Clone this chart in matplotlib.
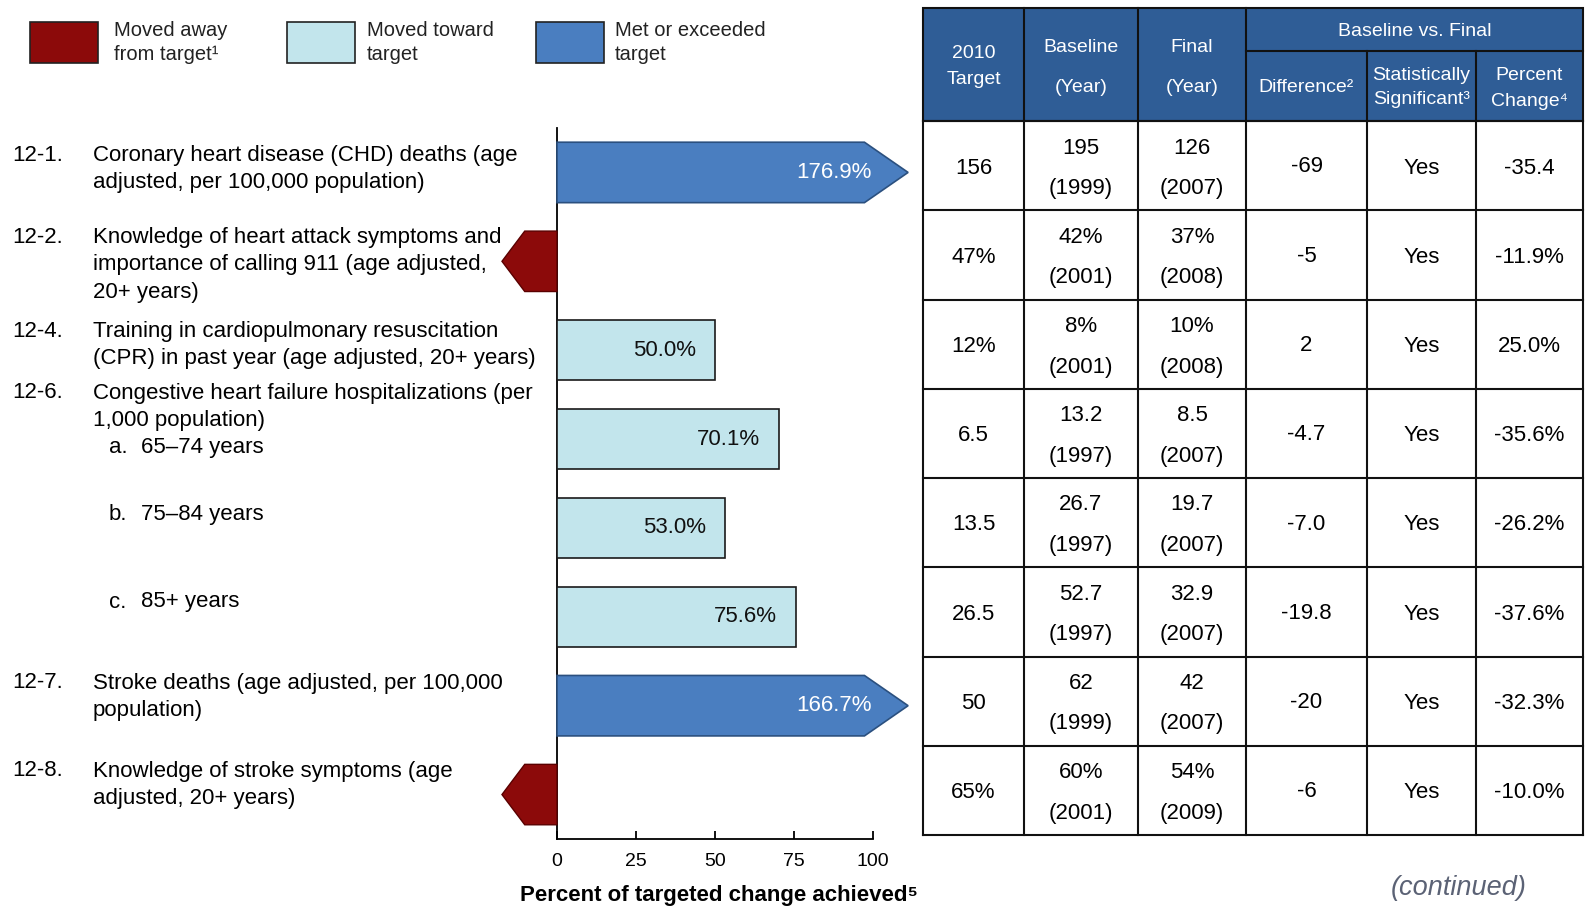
import matplotlib
matplotlib.use('Agg')
import matplotlib.pyplot as plt
from matplotlib.patches import Polygon, Rectangle

plt.rcParams['font.family'] = ['Liberation Sans', 'DejaVu Sans']

# data
objective_ids = ['12-1.', '12-2.', '12-4.', '12-6.', '12-7.', '12-8.']
objective_text = [
    'Coronary heart disease (CHD) deaths (age\nadjusted, per 100,000 population)',
    'Knowledge of heart attack symptoms and\nimportance of calling 911 (age adjusted,\n20+ years)',
    'Training in cardiopulmonary resuscitation\n(CPR) in past year (age adjusted, 20+ years)',
    'Congestive heart failure hospitalizations (per\n1,000 population)',
    'Stroke deaths (age adjusted, per 100,000\npopulation)',
    'Knowledge of stroke symptoms (age\nadjusted, 20+ years)',
]
sub_ids = ['a.', 'b.', 'c.']
sub_text = ['65\u201374 years', '75\u201384 years', '85+ years']

status = ['met', 'away', 'toward', 'toward', 'toward', 'toward', 'met', 'away']
achieved = [176.9, None, 50.0, 70.1, 53.0, 75.6, 166.7, None]

targets = ['156', '47%', '12%', '6.5', '13.5', '26.5', '50', '65%']
baseline = ['195', '42%', '8%', '13.2', '26.7', '52.7', '62', '60%']
baseline_year = ['(1999)', '(2001)', '(2001)', '(1997)', '(1997)', '(1997)', '(1999)', '(2001)']
final = ['126', '37%', '10%', '8.5', '19.7', '32.9', '42', '54%']
final_year = ['(2007)', '(2008)', '(2008)', '(2007)', '(2007)', '(2007)', '(2007)', '(2009)']
difference = ['-69', '-5', '2', '-4.7', '-7.0', '-19.8', '-20', '-6']
significant = ['Yes', 'Yes', 'Yes', 'Yes', 'Yes', 'Yes', 'Yes', 'Yes']
pct_change = ['-35.4', '-11.9%', '25.0%', '-35.6%', '-26.2%', '-37.6%', '-32.3%', '-10.0%']

legend_labels = ['Moved away\nfrom target\u00b9', 'Moved toward\ntarget', 'Met or exceeded\ntarget']

# colours
red = '#8c0a0a'
light = '#c2e5ec'
blue = '#4a7ec0'
head = '#2f5d96'

W, H = 1585, 906
fig = plt.figure(figsize=(W / 100, H / 100), dpi=100)

# overlay in pixel coordinates for text, legend and table
ov = fig.add_axes([0, 0, 1, 1])
ov.set_xlim(0, W)
ov.set_ylim(H, 0)
ov.axis('off')

fs = 16

# legend
leg_colors = [red, light, blue]
leg_box_x = [30, 287, 536]
leg_text_x = [114, 367, 615]
for c, bx, tx, lab in zip(leg_colors, leg_box_x, leg_text_x, legend_labels):
    ov.add_patch(Rectangle((bx, 22), 68, 41, facecolor=c, edgecolor='#222222', lw=1.2))
    for k, line in enumerate(lab.split('\n')):
        ov.text(tx, 31 + k * 23.5, line, fontsize=14.5, va='center', ha='left', color='#222222')

# left labels
line_h = 27.4
block_y = [155.5, 237.5, 331.5, 393, 683, 771]
for oid, txt, y0 in zip(objective_ids, objective_text, block_y):
    ov.text(12, y0, oid, fontsize=fs, va='center', ha='left')
    for k, line in enumerate(txt.split('\n')):
        ov.text(93, y0 + k * line_h, line, fontsize=fs, va='center', ha='left')
sub_y = [447.5, 514.5, 602]
for sid, txt, y0 in zip(sub_ids, sub_text, sub_y):
    ov.text(109, y0, sid, fontsize=fs, va='center', ha='left')
    ov.text(141, y0, txt, fontsize=fs, va='center', ha='left')

# table
col_x = [923, 1024, 1138, 1246, 1367, 1476, 1583]
head_top, head_mid, head_bot = 8, 51, 121
row_h = 89.25
n = len(targets)
ov.add_patch(Rectangle((col_x[0], head_top), col_x[-1] - col_x[0], head_bot - head_top,
                       facecolor=head, edgecolor='#111111', lw=1.5))
for x in col_x[1:-1]:
    y_start = head_mid if x > col_x[3] else head_top
    ov.plot([x, x], [y_start, head_bot], color='#111111', lw=1.5)
ov.plot([col_x[3], col_x[-1]], [head_mid, head_mid], color='#111111', lw=1.5)

cx = [(a + b) / 2 for a, b in zip(col_x[:-1], col_x[1:])]
hkw = dict(color='white', fontsize=14, ha='center', va='center')
ov.text(cx[0], 53, '2010', **hkw)
ov.text(cx[0], 80, 'Target', **hkw)
ov.text(cx[1], 47, 'Baseline', **hkw)
ov.text(cx[1], 87, '(Year)', **hkw)
ov.text(cx[2], 47, 'Final', **hkw)
ov.text(cx[2], 87, '(Year)', **hkw)
ov.text((col_x[3] + col_x[-1]) / 2, 32, 'Baseline vs. Final', **hkw)
ov.text(cx[3], 88, 'Difference\u00b2', **hkw)
ov.text(cx[4], 75, 'Statistically', **hkw)
ov.text(cx[4], 99, 'Significant\u00b3', **hkw)
ov.text(cx[5], 75, 'Percent', **hkw)
ov.text(cx[5], 101, 'Change\u2074', **hkw)

bottom = head_bot + n * row_h
for x in col_x:
    ov.plot([x, x], [head_bot, bottom], color='#111111', lw=1.5)
for r in range(n + 1):
    y = head_bot + r * row_h
    ov.plot([col_x[0], col_x[-1]], [y, y], color='#111111', lw=1.5)

tkw = dict(fontsize=fs, ha='center', va='center')
for r in range(n):
    top = head_bot + r * row_h
    ov.text(cx[0], top + 47, targets[r], **tkw)
    ov.text(cx[1], top + 27, baseline[r], **tkw)
    ov.text(cx[1], top + 67.5, baseline_year[r], **tkw)
    ov.text(cx[2], top + 27, final[r], **tkw)
    ov.text(cx[2], top + 67.5, final_year[r], **tkw)
    ov.text(cx[3], top + 46, difference[r], **tkw)
    ov.text(cx[4], top + 47, significant[r], **tkw)
    ov.text(cx[5], top + 47, pct_change[r], **tkw)

ov.text(1459, 888, '(continued)', fontsize=19.5, style='italic', color='#5b6275',
        ha='center', va='center')

# bar axes
x0px, scale = 557, 3.163
xmin, xmax = -20, 115
ax_left = x0px + xmin * scale
ax_width = (xmax - xmin) * scale
ax = fig.add_axes([ax_left / W, 1 - 839 / H, ax_width / W, (839 - 128) / H])
ax.patch.set_alpha(0)
ax.set_xlim(xmin, xmax)
ax.set_ylim(n - 0.5, -0.5)

bar_h = 0.68
cap_body, cap_tip = 97.2, 111
away_body, away_tip = -10.2, -17.4
rows = list(range(n))

toward_rows = [i for i in rows if status[i] == 'toward']
ax.barh(toward_rows, [achieved[i] for i in toward_rows], height=bar_h,
        color=light, edgecolor='#1a1a1a', lw=1.2, zorder=3)

for i in rows:
    hh = bar_h / 2
    if status[i] == 'met':
        pts = [(0, i - hh), (cap_body, i - hh), (cap_tip, i), (cap_body, i + hh), (0, i + hh)]
        ax.add_patch(Polygon(pts, closed=True, facecolor=blue, edgecolor='#2b507f', lw=1.2, zorder=3))
        ax.text(99.4, i, f'{achieved[i]:.1f}%', color='white', fontsize=fs,
                ha='right', va='center', zorder=4)
    elif status[i] == 'away':
        pts = [(0, i - hh), (away_body, i - hh), (away_tip, i), (away_body, i + hh), (0, i + hh)]
        ax.add_patch(Polygon(pts, closed=True, facecolor=red, edgecolor='#5a0000', lw=1.0, zorder=3))
    else:
        ax.text(achieved[i] - 6.0, i, f'{achieved[i]:.1f}%', color='#111111', fontsize=fs,
                ha='right', va='center', zorder=4)

for s in ['top', 'right']:
    ax.spines[s].set_visible(False)
ax.spines['left'].set_position(('data', 0))
ax.spines['bottom'].set_bounds(0, 100)
ax.spines['left'].set_linewidth(1.3)
ax.spines['bottom'].set_linewidth(1.3)
ax.set_yticks([])
ax.set_xticks([0, 25, 50, 75, 100])
ax.tick_params(axis='x', direction='in', length=6, width=1.3, labelsize=14, pad=10)
ax.set_xlabel('Percent of targeted change achieved\u2075', fontsize=16, fontweight='bold', labelpad=11)
ax.xaxis.label.set_x((719 - ax_left) / ax_width)

fig.savefig('out.png', dpi=100)
